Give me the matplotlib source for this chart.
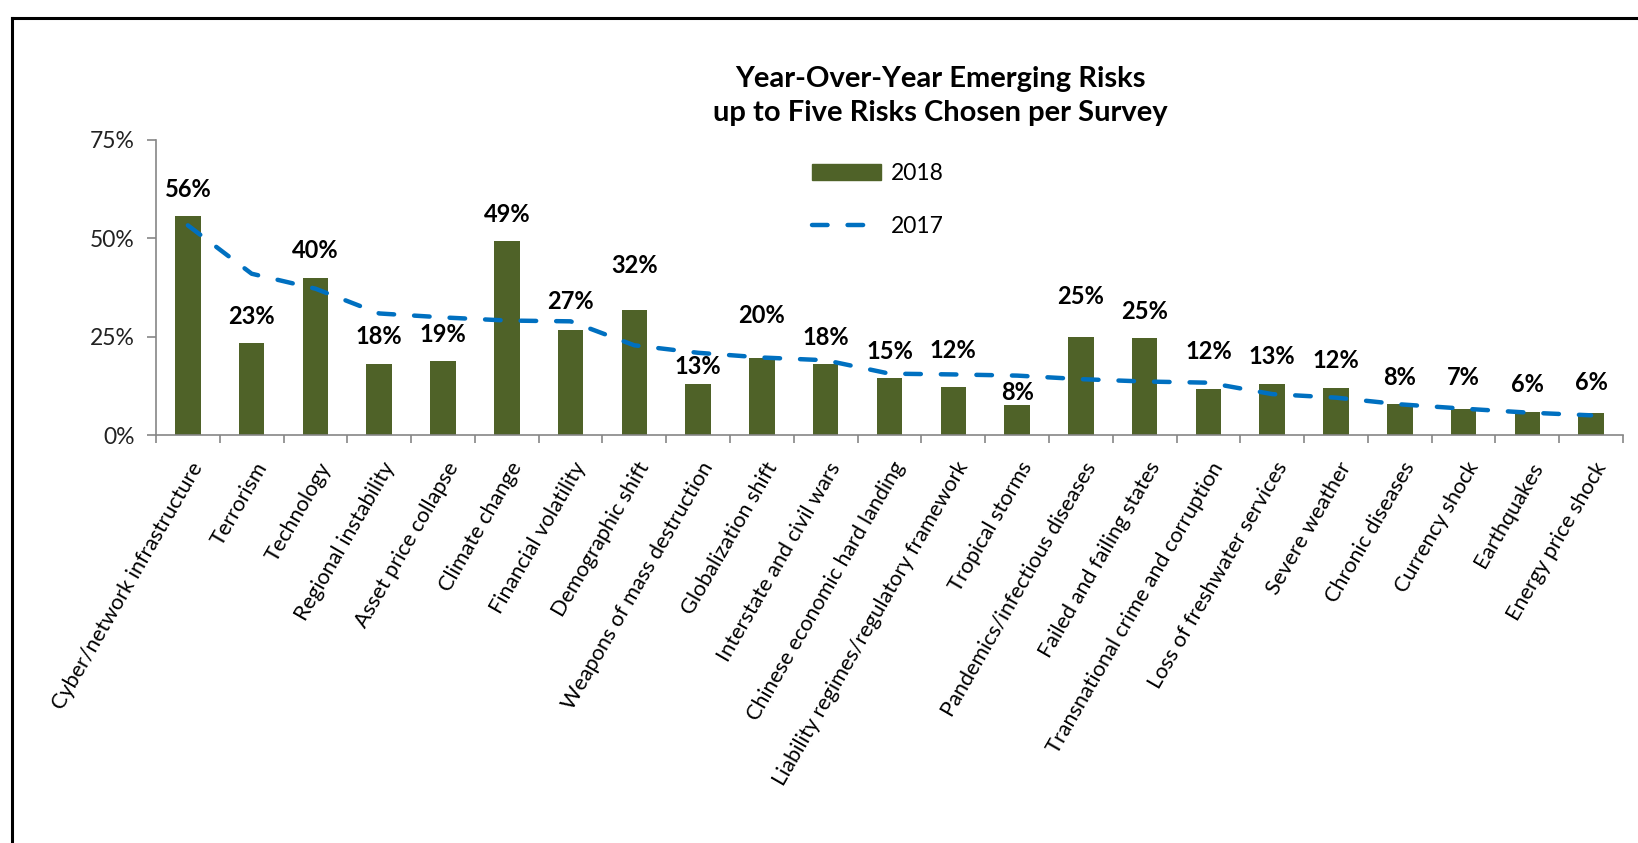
import numpy as np
import matplotlib
matplotlib.use("Agg")
import matplotlib.pyplot as plt
from matplotlib.lines import Line2D
from matplotlib.patches import Patch
from matplotlib.ticker import FuncFormatter, FixedLocator
from matplotlib.transforms import ScaledTranslation

plt.rcParams['font.family'] = ['Lato', 'DejaVu Sans']

categories = [
    "Cyber/network infrastructure", "Terrorism", "Technology", "Regional instability",
    "Asset price collapse", "Climate change", "Financial volatility", "Demographic shift",
    "Weapons of mass destruction", "Globalization shift", "Interstate and civil wars",
    "Chinese economic hard landing", "Liability regimes/regulatory framework",
    "Tropical storms", "Pandemics/infectious diseases", "Failed and failing states",
    "Transnational crime and corruption", "Loss of freshwater services", "Severe weather",
    "Chronic diseases", "Currency shock", "Earthquakes", "Energy price shock",
]
values_2018 = [55.6, 23.4, 40.0, 18.1, 18.8, 49.2, 26.6, 31.8, 13.0, 19.6, 18.0, 14.6,
               12.2, 7.6, 25.0, 24.7, 11.8, 13.0, 12.0, 7.8, 6.6, 5.8, 5.6]
values_2017 = [53.3, 41.0, 37.2, 30.9, 29.9, 29.1, 28.9, 22.8, 20.9, 19.7, 19.0, 15.6,
               15.4, 15.1, 14.2, 13.6, 13.3, 10.4, 9.5, 7.8, 6.7, 5.7, 5.0]
yticks = [0, 25, 50, 75]

# how far (points) each data label sits above its bar, as placed in the original
label_offsets = [19.4, 19.4, 19.4, 19.4, 19.4, 19.4, 20.9, 31.7, 12.2, 30.2, 19.4, 18.7,
                 26.6, 9.4, 28.8, 18.7, 26.6, 19.4, 19.4, 19.4, 23.0, 20.2, 21.6]

bar_color = '#4F6228'
line_color = '#0070C0'
axis_gray = '#868686'

W, H = 1638, 843
fig = plt.figure(figsize=(W / 100, H / 100), dpi=100)
ax = fig.add_axes([156 / W, 1 - 435 / H, (1623 - 156) / W, (435 - 140) / H])

x = np.arange(len(categories))
ax.bar(x, values_2018, width=0.4, color=bar_color, zorder=2, label='2018')
ax.plot(x, values_2017, color=line_color, lw=3.2, linestyle=(0, (3.5, 4.5)),
        dash_capstyle='round', zorder=3, label='2017')

for xi, v, off in zip(x, values_2018, label_offsets):
    ax.annotate(f"{v:.0f}%", (xi, v), xytext=(0, off), textcoords='offset points',
                ha='center', va='center', fontsize=17, fontweight='bold', color='black')

ax.set_xlim(-0.5, len(categories) - 0.5)
ax.set_ylim(0, 75)
ax.set_yticks(yticks)
ax.yaxis.set_major_formatter(FuncFormatter(lambda v, p: f"{v:.0f}%"))
ax.tick_params(axis='y', direction='out', length=6.5, width=1.2, color=axis_gray,
               labelsize=16.5, pad=9, labelcolor='#222222')

ax.xaxis.set_minor_locator(FixedLocator(np.arange(len(categories) + 1) - 0.5))
ax.tick_params(axis='x', which='minor', direction='out', length=6, width=1.2, color=axis_gray)
ax.tick_params(axis='x', which='major', length=0, pad=17, labelsize=15.6)
ax.set_xticks(x)
ax.set_xticklabels(categories, rotation=60, ha='right', va='top', rotation_mode='anchor')
for lab in ax.get_xticklabels():
    lab.set_transform(lab.get_transform() + ScaledTranslation(0.02, 0, fig.dpi_scale_trans))

for s in ['top', 'right']:
    ax.spines[s].set_visible(False)
for s in ['left', 'bottom']:
    ax.spines[s].set_color(axis_gray)
    ax.spines[s].set_linewidth(1.2)

fig.text(940 / W, 1 - 96 / H, "Year-Over-Year Emerging Risks\nup to Five Risks Chosen per Survey",
         ha='center', va='center', fontsize=21, fontweight='bold', linespacing=1.4)

handles = [Patch(color=bar_color),
           Line2D([], [], color=line_color, lw=3.2, linestyle=(0, (3.5, 4.5)), dash_capstyle='round')]
fig.legend(handles, ['2018', '2017'], loc='upper left', bbox_to_anchor=(812 / W, 1 - 163 / H),
           frameon=False, fontsize=16.5, handlelength=3.0, handletextpad=0.45,
           labelspacing=1.38, borderpad=0, borderaxespad=0)

# outer border (top and left edges visible)
fig.add_artist(Line2D([12 / W, 1], [1 - 18 / H, 1 - 18 / H], transform=fig.transFigure,
                      color='black', lw=2.2))
fig.add_artist(Line2D([12 / W, 12 / W], [0, 1 - 18 / H], transform=fig.transFigure,
                      color='black', lw=2.2))

fig.savefig("out.png", dpi=100)
